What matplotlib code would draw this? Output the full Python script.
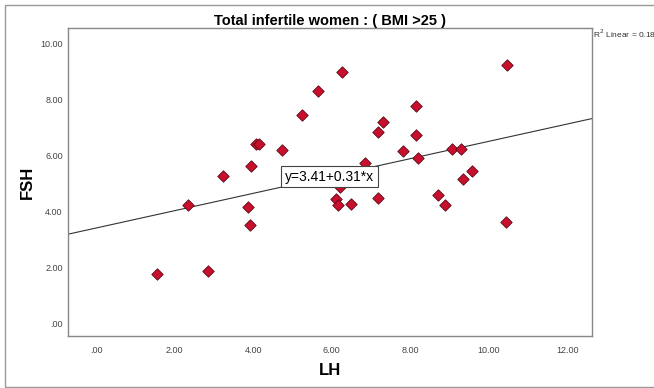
import matplotlib
matplotlib.use("Agg")
import matplotlib.pyplot as plt
from matplotlib.patches import Rectangle
import numpy as np

plt.rcParams['font.family'] = ['Liberation Sans', 'DejaVu Sans']

# LH / FSH values
lh = [1.54, 2.34, 2.86, 3.23, 3.87, 3.91, 3.95, 4.06, 4.14, 4.74, 5.25, 5.65,
      6.27, 6.22, 6.11, 6.17, 6.48, 6.85, 7.19, 7.19, 7.32, 7.81, 8.15, 8.15,
      8.19, 8.70, 8.90, 9.07, 9.29, 9.35, 9.57, 10.45, 10.48]
fsh = [1.75, 4.22, 1.86, 5.27, 4.15, 3.51, 5.62, 6.42, 6.42, 6.19, 7.47, 8.32,
       8.98, 4.86, 4.44, 4.23, 4.27, 5.75, 4.48, 6.86, 7.20, 6.16, 7.78, 6.75,
       5.93, 4.58, 4.23, 6.25, 6.25, 5.17, 5.46, 3.63, 9.25]
intercept = 3.41
slope = 0.31
r2 = 0.183

xticks = [0, 2, 4, 6, 8, 10, 12]
yticks = [0, 2, 4, 6, 8, 10]

fig = plt.figure(figsize=(6.54, 3.88), dpi=100)
ax = fig.add_axes([0.1045, 0.133, 0.8005, 0.795])

xlo, xhi = -0.71, 12.63
ax.set_xlim(xlo, xhi)
ax.set_ylim(-0.47, 10.57)

xs = np.array([xlo, xhi])
ax.plot(xs, intercept + slope * xs, color='#333333', lw=0.8, zorder=1)

ax.scatter(lh, fsh, marker='D', s=34, facecolor='#c8102e', edgecolor='#5a0a14',
           linewidth=0.6, zorder=2)

xm = 5.94
ax.text(xm, intercept + slope * xm, 'y=3.41+0.31*x', fontsize=10, ha='center', va='center',
        bbox=dict(boxstyle='square,pad=0.28', facecolor='white', edgecolor='#444444', lw=0.8),
        zorder=3)

ax.set_xticks(xticks)
ax.set_yticks(yticks)
ax.set_xticklabels(['.00' if t == 0 else '%.2f' % t for t in xticks])
ax.set_yticklabels(['.00' if t == 0 else '%.2f' % t for t in yticks])
ax.tick_params(length=0, labelsize=6.5, labelcolor='#444444')
ax.tick_params(axis='x', pad=7)
ax.tick_params(axis='y', pad=4)
for sp in ax.spines.values():
    sp.set_color('#888888')
    sp.set_linewidth(1.0)

ax.set_xlabel('LH', fontsize=12, fontweight='bold', labelpad=6)
ax.set_ylabel('FSH', fontsize=12, fontweight='bold', labelpad=4)
ax.set_title('Total infertile women : ( BMI >25 )', fontsize=10.5, fontweight='bold', pad=2)

fig.text(593 / 654, 1 - 34 / 388, 'R$^2$ Linear = 0.183', fontsize=6, va='center', ha='left',
         color='#333333')

fig.patches.append(Rectangle((5 / 654, 1 / 388), 660 / 654, 382 / 388, transform=fig.transFigure,
                             fill=False, edgecolor='#999999', lw=1.0))

fig.savefig('out.png', dpi=100)
